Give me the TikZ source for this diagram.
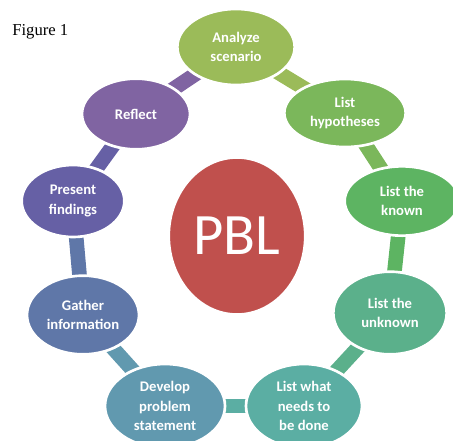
\documentclass[tikz,border=0pt]{standalone}
\usepackage{fontspec}
\setmainfont{Liberation Serif}
\newfontfamily\calibri{Carlito}
\usetikzlibrary{shapes.geometric,backgrounds}

% stage colours
\definecolor{analyzeclr}{RGB}{155,187,89}
\definecolor{hypoclr}{RGB}{123,183,91}
\definecolor{knownclr}{RGB}{93,180,98}
\definecolor{unknownclr}{RGB}{91,176,139}
\definecolor{needsclr}{RGB}{91,174,163}
\definecolor{developclr}{RGB}{97,153,175}
\definecolor{gatherclr}{RGB}{95,119,168}
\definecolor{presentclr}{RGB}{102,96,165}
\definecolor{reflectclr}{RGB}{128,100,162}
\definecolor{pblclr}{RGB}{192,80,77}

\tikzset{
  stage/.style={ellipse, draw=white, line width=2pt, text=white, align=center,
    inner sep=0pt, font=\calibri\bfseries\fontsize{11}{14.8}\selectfont},
  link/.style={line width=11pt},
}

\begin{document}
\begin{tikzpicture}[x=0.75pt,y=0.75pt,yscale=-1,xscale=1]
\useasboundingbox (0,0) rectangle (453,440);

%Caption
\node[anchor=base west, inner sep=0pt, font=\fontsize{12.5}{15}\selectfont] (caption) at (12,35) {Figure 1};

%Centre circle
\node[ellipse, fill=pblclr, draw=white, line width=1.2pt, minimum width=99pt, minimum height=117pt,
  text=white, font=\calibri\fontsize{44}{46}\selectfont] (pbl) at (237,236) {PBL};

%Stages around the cycle
\node[stage, fill=analyzeclr, minimum width=88pt, minimum height=57pt] (analyze) at (236,47) {Analyze\\scenario};
\node[stage, fill=hypoclr, minimum width=91pt, minimum height=51pt] (hypo) at (345,113) {List\\hypotheses};
\node[stage, fill=knownclr, minimum width=86pt, minimum height=52pt] (known) at (402,201) {List the\\known};
\node[stage, fill=unknownclr, minimum width=85pt, minimum height=62pt] (unknown) at (390,313) {List the\\unknown};
\node[stage, fill=needsclr, minimum width=87pt, minimum height=63pt] (needs) at (304,406) {List what\\needs to\\be done};
\node[stage, fill=developclr, minimum width=90pt, minimum height=63pt] (develop) at (165,406) {Develop\\problem\\statement};
\node[stage, fill=gatherclr, minimum width=84pt, minimum height=59pt] (gather) at (83,315) {Gather\\information};
\node[stage, fill=presentclr, minimum width=77pt, minimum height=54pt] (present) at (73,201) {Present\\findings};
\node[stage, fill=reflectclr, minimum width=81pt, minimum height=53pt] (reflect) at (136,114) {Reflect};

%Connectors between neighbouring stages, behind the ellipses
\begin{scope}[on background layer]
\draw[link, analyzeclr] (analyze.center) -- (hypo.center);
\draw[link, hypoclr] (hypo.center) -- (known.center);
\draw[link, knownclr] (known.center) -- (unknown.center);
\draw[link, unknownclr] (unknown.center) -- (needs.center);
\draw[link, needsclr] (needs.center) -- (develop.center);
\draw[link, developclr] (develop.center) -- (gather.center);
\draw[link, gatherclr] (gather.center) -- (present.center);
\draw[link, presentclr] (present.center) -- (reflect.center);
\draw[link, reflectclr] (reflect.center) -- (analyze.center);
\end{scope}

\end{tikzpicture}
\end{document}
